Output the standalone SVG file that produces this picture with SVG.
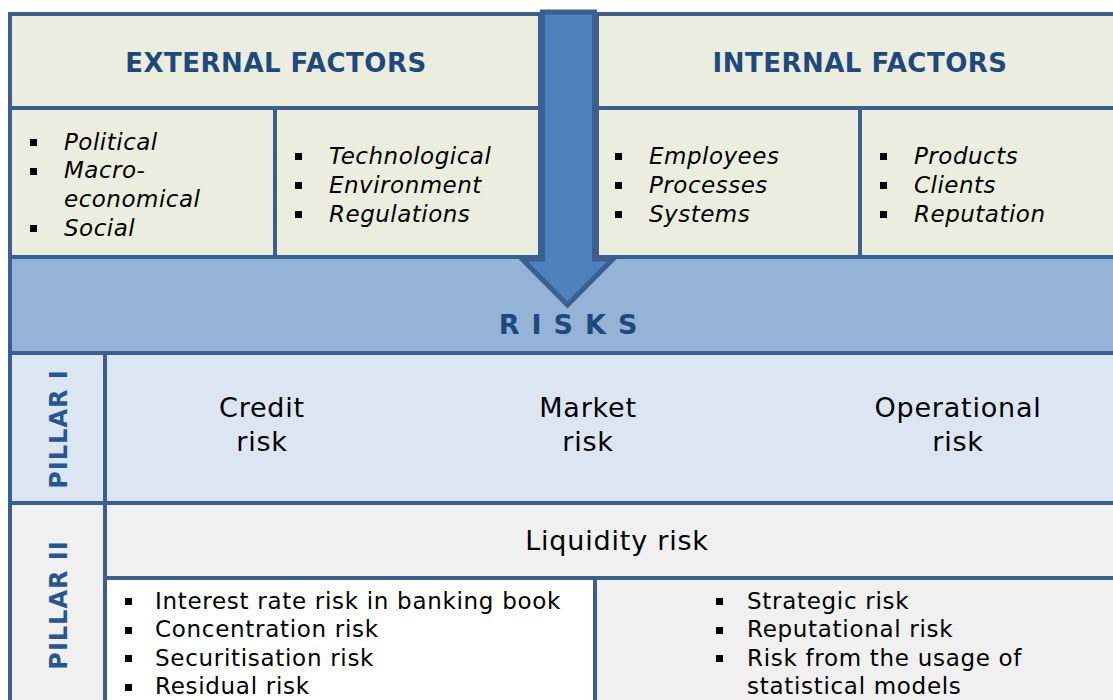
<svg xmlns="http://www.w3.org/2000/svg" width="1113" height="700" viewBox="0 0 1113 700">
<style>
.box{stroke:#3b5f8f;stroke-width:4}
.fac{fill:#ebeedf}
.hdr{font-family:"DejaVu Sans",Verdana,sans-serif;font-weight:bold;font-size:26px;fill:#1f497d;text-anchor:middle;letter-spacing:0.5px}
.it{font-family:"DejaVu Sans",Verdana,sans-serif;font-style:italic;font-size:23px;fill:#000;letter-spacing:0.5px}
.rk{font-family:"DejaVu Sans",Verdana,sans-serif;font-size:27px;fill:#000;text-anchor:middle;letter-spacing:0.8px}
.bl{font-family:"DejaVu Sans",Verdana,sans-serif;font-size:23px;fill:#000;letter-spacing:0.7px}
.pil{font-family:"DejaVu Sans",Verdana,sans-serif;font-weight:bold;font-size:24px;fill:#285690;text-anchor:middle;letter-spacing:1px}
.dot{fill:#000}
</style>
<rect width="1113" height="700" fill="#ffffff"/>

<g id="external-factors">
  <rect class="box fac" x="10" y="14" width="530" height="94"/>
  <text class="hdr" x="276" y="72">EXTERNAL FACTORS</text>
  <rect class="box fac" x="10" y="108" width="265" height="149"/>
  <rect class="dot" x="30" y="139" width="7" height="7"/>
  <text class="it" x="64" y="150">Political</text>
  <rect class="dot" x="30" y="168" width="7" height="7"/>
  <text class="it" x="64" y="178">Macro-</text>
  <text class="it" x="64" y="207">economical</text>
  <rect class="dot" x="30" y="225" width="7" height="7"/>
  <text class="it" x="64" y="236">Social</text>
  <rect class="box fac" x="275" y="108" width="265" height="149"/>
  <rect class="dot" x="295" y="153" width="7" height="7"/>
  <text class="it" x="329" y="164">Technological</text>
  <rect class="dot" x="295" y="182" width="7" height="7"/>
  <text class="it" x="329" y="193">Environment</text>
  <rect class="dot" x="295" y="211" width="7" height="7"/>
  <text class="it" x="329" y="222">Regulations</text>
</g>

<g id="internal-factors">
  <rect class="box fac" x="597" y="14" width="530" height="94"/>
  <text class="hdr" x="860" y="72">INTERNAL FACTORS</text>
  <rect class="box fac" x="597" y="108" width="263" height="149"/>
  <rect class="dot" x="615" y="153" width="7" height="7"/>
  <text class="it" x="649" y="164">Employees</text>
  <rect class="dot" x="615" y="182" width="7" height="7"/>
  <text class="it" x="649" y="193">Processes</text>
  <rect class="dot" x="615" y="211" width="7" height="7"/>
  <text class="it" x="649" y="222">Systems</text>
  <rect class="box fac" x="860" y="108" width="270" height="149"/>
  <rect class="dot" x="880" y="153" width="7" height="7"/>
  <text class="it" x="914" y="164">Products</text>
  <rect class="dot" x="880" y="182" width="7" height="7"/>
  <text class="it" x="914" y="193">Clients</text>
  <rect class="dot" x="880" y="211" width="7" height="7"/>
  <text class="it" x="914" y="222">Reputation</text>
</g>

<g id="risks">
  <rect class="box" x="10" y="257" width="1120" height="96" fill="#95b3d7"/>
  <text x="574" y="334" font-family="'DejaVu Sans',Verdana,sans-serif" font-weight="bold" font-size="27" fill="#1f497d" text-anchor="middle" letter-spacing="12">RISKS</text>
</g>

<g id="connectors">
  <polygon points="542.5,12 594.5,12 594.5,259 613,259 567.5,305 522,259 542.5,259" fill="#4f81bd" stroke="#3b5f8f" stroke-width="5" stroke-linejoin="miter"/>
</g>

<g id="pillar-1">
  <rect class="box" x="10" y="353" width="95" height="150" fill="#dce6f2"/>
  <text class="pil" transform="translate(67,429) rotate(-90)">PILLAR I</text>
  <rect class="box" x="105" y="353" width="1025" height="150" fill="#dce6f2"/>
  <text class="rk" x="262" y="417">Credit</text>
  <text class="rk" x="262" y="451">risk</text>
  <text class="rk" x="588" y="417">Market</text>
  <text class="rk" x="588" y="451">risk</text>
  <text class="rk" x="958" y="417">Operational</text>
  <text class="rk" x="958" y="451">risk</text>
</g>

<g id="pillar-2">
  <rect class="box" x="10" y="503" width="95" height="210" fill="#f0f0f0"/>
  <text class="pil" transform="translate(67,605) rotate(-90)">PILLAR II</text>
  <rect class="box" x="105" y="503" width="1025" height="75" fill="#f0f0f0"/>
  <text class="rk" x="617" y="550">Liquidity risk</text>
  <rect class="box" x="105" y="578" width="490" height="135" fill="#ffffff"/>
  <rect class="dot" x="125" y="598" width="7" height="7"/>
  <text class="bl" x="155" y="609">Interest rate risk in banking book</text>
  <rect class="dot" x="125" y="627" width="7" height="7"/>
  <text class="bl" x="155" y="637">Concentration risk</text>
  <rect class="dot" x="125" y="655" width="7" height="7"/>
  <text class="bl" x="155" y="666">Securitisation risk</text>
  <rect class="dot" x="125" y="684" width="7" height="7"/>
  <text class="bl" x="155" y="694">Residual risk</text>
  <rect class="box" x="595" y="578" width="535" height="135" fill="#f0f0f0"/>
  <rect class="dot" x="716" y="598" width="7" height="7"/>
  <text class="bl" x="747" y="609">Strategic risk</text>
  <rect class="dot" x="716" y="627" width="7" height="7"/>
  <text class="bl" x="747" y="637">Reputational risk</text>
  <rect class="dot" x="716" y="655" width="7" height="7"/>
  <text class="bl" x="747" y="666">Risk from the usage of</text>
  <text class="bl" x="747" y="694">statistical models</text>
</g>
</svg>
